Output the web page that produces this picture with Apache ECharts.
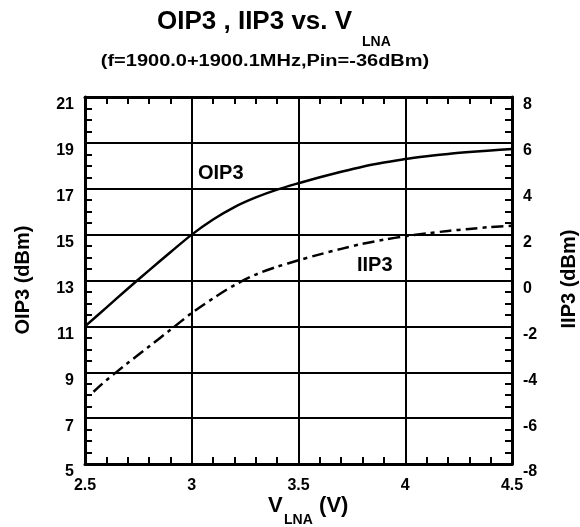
<!DOCTYPE html>
<html>
<head>
<meta charset="utf-8">
<script src="https://cdn.jsdelivr.net/npm/echarts@6/dist/echarts.min.js"></script>
<style>html,body{margin:0;padding:0;background:#fff;}#c{width:580px;height:527px;}</style>
</head>
<body>
<div id="c"></div>
<script>
// Data
const vlna = [2.5, 2.6, 2.7, 2.8, 2.9, 3.0, 3.1, 3.2, 3.3, 3.4, 3.5, 3.6, 3.7, 3.8, 3.9, 4.0, 4.1, 4.2, 4.3, 4.4, 4.5];
const oip3 = [11.0, 11.82, 12.64, 13.44, 14.23, 15.0, 15.66, 16.2, 16.62, 16.96, 17.24, 17.5, 17.74, 17.96, 18.14, 18.3, 18.42, 18.52, 18.6, 18.67, 18.73];
const iip3V = [2.54, 2.6, 2.7, 2.8, 2.9, 3.0, 3.1, 3.2, 3.3, 3.4, 3.5, 3.6, 3.7, 3.8, 3.9, 4.0, 4.1, 4.2, 4.3, 4.4, 4.5];
const iip3 = [-4.85, -4.35, -3.6, -2.88, -2.15, -1.42, -0.78, -0.2, 0.26, 0.6, 0.88, 1.14, 1.38, 1.6, 1.78, 1.93, 2.05, 2.16, 2.25, 2.33, 2.39];
const xTicks = [2.5, 4.5, 0.5];      // min, max, interval
const leftTicks = [5, 21, 2];
const rightTicks = [-8, 8, 2];

const FONT = 'Liberation Sans';
const chart = echarts.init(document.getElementById('c'), null, {renderer: 'canvas'});
const black = '#000';
const tickLabel = {color: black, fontWeight: 'bold', fontSize: 16, fontFamily: FONT};

function yAxisBase(t, pos, split) {
  return {
    type: 'value', position: pos, min: t[0], max: t[1], interval: t[2],
    axisLine: {show: true, lineStyle: {color: black, width: 3}},
    axisTick: {show: true, inside: true, length: 7, lineStyle: {color: black, width: 2}},
    minorTick: {show: true, splitNumber: 4, length: 7, lineStyle: {color: black, width: 2}},
    splitLine: {show: split, lineStyle: {color: black, width: 2}},
    axisLabel: Object.assign({margin: 11, verticalAlign: 'top'}, tickLabel)
  };
}

const option = {
  animation: false,
  backgroundColor: '#fff',
  grid: {left: 85, right: 68, top: 97, bottom: 63, containLabel: false},
  xAxis: [
    {
      type: 'value', position: 'bottom', min: xTicks[0], max: xTicks[1], interval: xTicks[2],
      axisLine: {show: true, onZero: false, lineStyle: {color: black, width: 3}},
      axisTick: {show: true, inside: true, length: 7, lineStyle: {color: black, width: 2}},
      minorTick: {show: true, splitNumber: 5, length: 7, lineStyle: {color: black, width: 2}},
      splitLine: {show: true, lineStyle: {color: black, width: 2}},
      axisLabel: Object.assign({margin: 14}, tickLabel)
    },
    {
      type: 'value', position: 'top', min: xTicks[0], max: xTicks[1], interval: xTicks[2],
      axisLine: {show: true, onZero: false, lineStyle: {color: black, width: 3}},
      axisTick: {show: true, inside: true, length: 7, lineStyle: {color: black, width: 2}},
      minorTick: {show: true, splitNumber: 5, length: 7, lineStyle: {color: black, width: 2}},
      splitLine: {show: false},
      axisLabel: {show: false}
    }
  ],
  yAxis: [
    yAxisBase(leftTicks, 'left', true),
    yAxisBase(rightTicks, 'right', false)
  ],
  series: [
    {
      name: 'OIP3', type: 'line', xAxisIndex: 0, yAxisIndex: 0,
      data: vlna.map((v, i) => [v, oip3[i]]),
      smooth: 0.3, showSymbol: false, symbol: 'none',
      lineStyle: {color: black, width: 2.5}
    },
    {
      name: 'IIP3', type: 'line', xAxisIndex: 0, yAxisIndex: 1,
      data: iip3V.map((v, i) => [v, iip3[i]]),
      smooth: 0.3, showSymbol: false, symbol: 'none',
      lineStyle: {color: black, width: 2.5, type: [12, 5, 4, 5], cap: 'butt'}
    }
  ],
  graphic: [
    {type: 'text', left: 157, top: 9, style: {text: 'OIP3 , IIP3 vs. V', fill: black, font: 'bold 26px "Liberation Sans"'}},
    {type: 'text', left: 362, top: 35, style: {text: 'LNA', fill: black, font: 'bold 14px "Liberation Sans"'}},
    {type: 'text', x: 265, y: 62, scaleX: 1.25, style: {text: '(f=1900.0+1900.1MHz,Pin=-36dBm)', fill: black, font: 'bold 16px "Liberation Sans"', align: 'center', verticalAlign: 'middle'}},
    {type: 'text', x: 23, y: 280, rotation: Math.PI / 2, style: {text: 'OIP3 (dBm)', fill: black, font: 'bold 20px "Liberation Sans"', align: 'center', verticalAlign: 'middle'}},
    {type: 'text', x: 569, y: 279, rotation: Math.PI / 2, style: {text: 'IIP3 (dBm)', fill: black, font: 'bold 20px "Liberation Sans"', align: 'center', verticalAlign: 'middle'}},
    {type: 'text', x: 268, y: 506, style: {text: 'V', fill: black, font: 'bold 22px "Liberation Sans"', align: 'left', verticalAlign: 'middle'}},
    {type: 'text', x: 284, y: 520, style: {text: 'LNA', fill: black, font: 'bold 14px "Liberation Sans"', align: 'left', verticalAlign: 'middle'}},
    {type: 'text', x: 313, y: 506, style: {text: ' (V)', fill: black, font: 'bold 22px "Liberation Sans"', align: 'left', verticalAlign: 'middle'}},
    {type: 'text', x: 198, y: 173, style: {text: 'OIP3', fill: black, font: 'bold 20px "Liberation Sans"', align: 'left', verticalAlign: 'middle'}},
    {type: 'text', x: 357, y: 265, style: {text: 'IIP3', fill: black, font: 'bold 20px "Liberation Sans"', align: 'left', verticalAlign: 'middle'}}
  ]
};
chart.setOption(option);
</script>
</body>
</html>
